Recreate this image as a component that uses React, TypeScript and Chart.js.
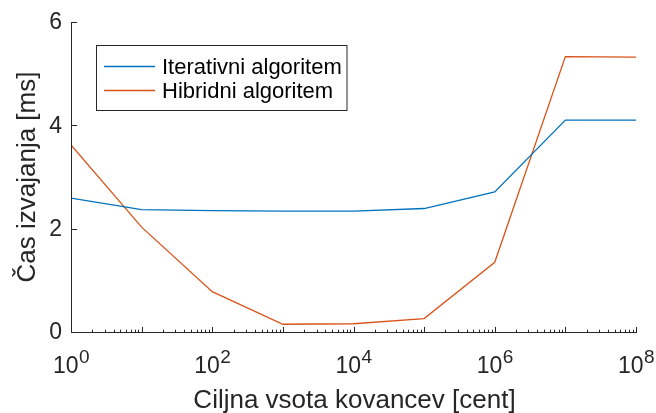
import React, { useEffect, useRef } from "react";
import { Chart, registerables } from "chart.js";

Chart.register(...registerables);

// ---- data ----
const targetSums = [1, 10, 100, 1e3, 1e4, 1e5, 1e6, 1e7, 1e8];
const iterativeMs = [2.59, 2.37, 2.35, 2.34, 2.34, 2.39, 2.71, 4.1, 4.1];
const hybridMs = [3.62, 2.03, 0.78, 0.15, 0.16, 0.26, 1.35, 5.33, 5.32];
const seriesNames = ["Iterativni algoritem", "Hibridni algoritem"];
const yTicks = [0, 2, 4, 6];
const xDecades = [0, 1, 2, 3, 4, 5, 6, 7, 8];
const xLabelExponents = [0, 2, 4, 6, 8];
const xTitle = "Ciljna vsota kovancev [cent]";
const yTitle = "Čas izvajanja [ms]";

const BLUE = "#0072BD";
const ORANGE = "#D95319";
const AXIS = "#262626";
const FONT = "'Liberation Sans', Arial, Helvetica, sans-serif";

const matlabAxes = {
  id: "matlabAxes",
  afterDraw(chart: any) {
    const ctx: CanvasRenderingContext2D = chart.ctx;
    const xs = chart.scales.x;
    const ys = chart.scales.y;
    const { left, right, top, bottom } = chart.chartArea;
    const L = Math.round(left) + 0.5;
    const B = Math.round(bottom) + 0.5;
    const majorLen = 5.6;
    const minorLen = 2.8;

    ctx.save();
    ctx.strokeStyle = AXIS;
    ctx.lineWidth = 1;
    ctx.beginPath();
    ctx.moveTo(L, Math.round(top));
    ctx.lineTo(L, B);
    ctx.lineTo(Math.round(right) + 1, B);
    ctx.stroke();

    // y ticks
    ctx.beginPath();
    for (const v of yTicks) {
      const y = Math.round(ys.getPixelForValue(v)) + 0.5;
      ctx.moveTo(L, y);
      ctx.lineTo(L + majorLen, y);
    }
    // x ticks
    for (const d of xDecades) {
      const x = Math.round(xs.getPixelForValue(Math.pow(10, d))) + 0.5;
      ctx.moveTo(x, B);
      ctx.lineTo(x, B - majorLen);
      if (d < xDecades[xDecades.length - 1]) {
        for (let m = 2; m <= 9; m++) {
          const xm = Math.round(xs.getPixelForValue(m * Math.pow(10, d))) + 0.5;
          ctx.moveTo(xm, B);
          ctx.lineTo(xm, B - minorLen);
        }
      }
    }
    ctx.stroke();

    // y tick labels
    ctx.fillStyle = AXIS;
    ctx.font = `23px ${FONT}`;
    ctx.textAlign = "right";
    ctx.textBaseline = "middle";
    for (const v of yTicks) {
      const y = ys.getPixelForValue(v);
      ctx.fillText(String(v), L - 9.5, y + 1);
    }

    // x tick labels 10^e
    ctx.textAlign = "left";
    ctx.textBaseline = "alphabetic";
    for (const e of xLabelExponents) {
      const x = xs.getPixelForValue(Math.pow(10, e));
      ctx.font = `23px ${FONT}`;
      const wBase = ctx.measureText("10").width;
      ctx.font = `19px ${FONT}`;
      const wExp = ctx.measureText(String(e)).width;
      const start = x - (wBase + wExp) / 2;
      ctx.font = `23px ${FONT}`;
      ctx.fillText("10", start, 373);
      ctx.font = `19px ${FONT}`;
      ctx.fillText(String(e), start + wBase + 0.5, 363);
    }

    // axis titles
    ctx.font = `26px ${FONT}`;
    ctx.textAlign = "center";
    ctx.textBaseline = "alphabetic";
    ctx.fillText(xTitle, (left + right) / 2 + 1, 408);
    ctx.save();
    ctx.translate(35, (top + bottom) / 2);
    ctx.rotate(-Math.PI / 2);
    ctx.fillText(yTitle, 0, 0);
    ctx.restore();

    // legend
    const bx = 96.5, by = 45.5, bw = 250.5, bh = 65;
    ctx.fillStyle = "#ffffff";
    ctx.fillRect(bx, by, bw, bh);
    ctx.strokeStyle = AXIS;
    ctx.strokeRect(bx, by, bw, bh);
    const rows = [67, 91];
    chart.data.datasets.forEach((ds: any, i: number) => {
      ctx.strokeStyle = ds.borderColor;
      ctx.lineWidth = 1.3;
      ctx.beginPath();
      ctx.moveTo(104, rows[i] - 0.5);
      ctx.lineTo(155, rows[i] - 0.5);
      ctx.stroke();
      ctx.fillStyle = "#000000";
      ctx.font = `22px ${FONT}`;
      ctx.textAlign = "left";
      ctx.textBaseline = "middle";
      ctx.fillText(ds.label, 162, rows[i] + 1);
    });

    ctx.restore();
  },
};

export default function App() {
  const ref = useRef<HTMLCanvasElement | null>(null);

  useEffect(() => {
    if (!ref.current) return;
    const chart = new Chart(ref.current, {
      type: "line",
      data: {
        datasets: [
          {
            label: seriesNames[0],
            data: targetSums.map((x, i) => ({ x, y: iterativeMs[i] })),
            borderColor: BLUE,
            backgroundColor: BLUE,
            borderWidth: 1.3,
            pointRadius: 0,
            tension: 0,
          },
          {
            label: seriesNames[1],
            data: targetSums.map((x, i) => ({ x, y: hybridMs[i] })),
            borderColor: ORANGE,
            backgroundColor: ORANGE,
            borderWidth: 1.3,
            pointRadius: 0,
            tension: 0,
          },
        ],
      },
      options: {
        animation: false,
        responsive: false,
        devicePixelRatio: 1,
        layout: { padding: { left: 71, right: 20, top: 22, bottom: 81 } },
        plugins: { legend: { display: false }, tooltip: { enabled: false } },
        scales: {
          x: { type: "logarithmic", min: 1, max: 1e8, display: false },
          y: { type: "linear", min: 0, max: 6, display: false },
        },
      },
      plugins: [matlabAxes],
    });
    return () => chart.destroy();
  }, []);

  return (
    <div style={{ position: "fixed", left: 0, top: 0, width: 656, height: 413, background: "#fff" }}>
      <canvas ref={ref} width={656} height={413} style={{ display: "block" }} />
    </div>
  );
}
